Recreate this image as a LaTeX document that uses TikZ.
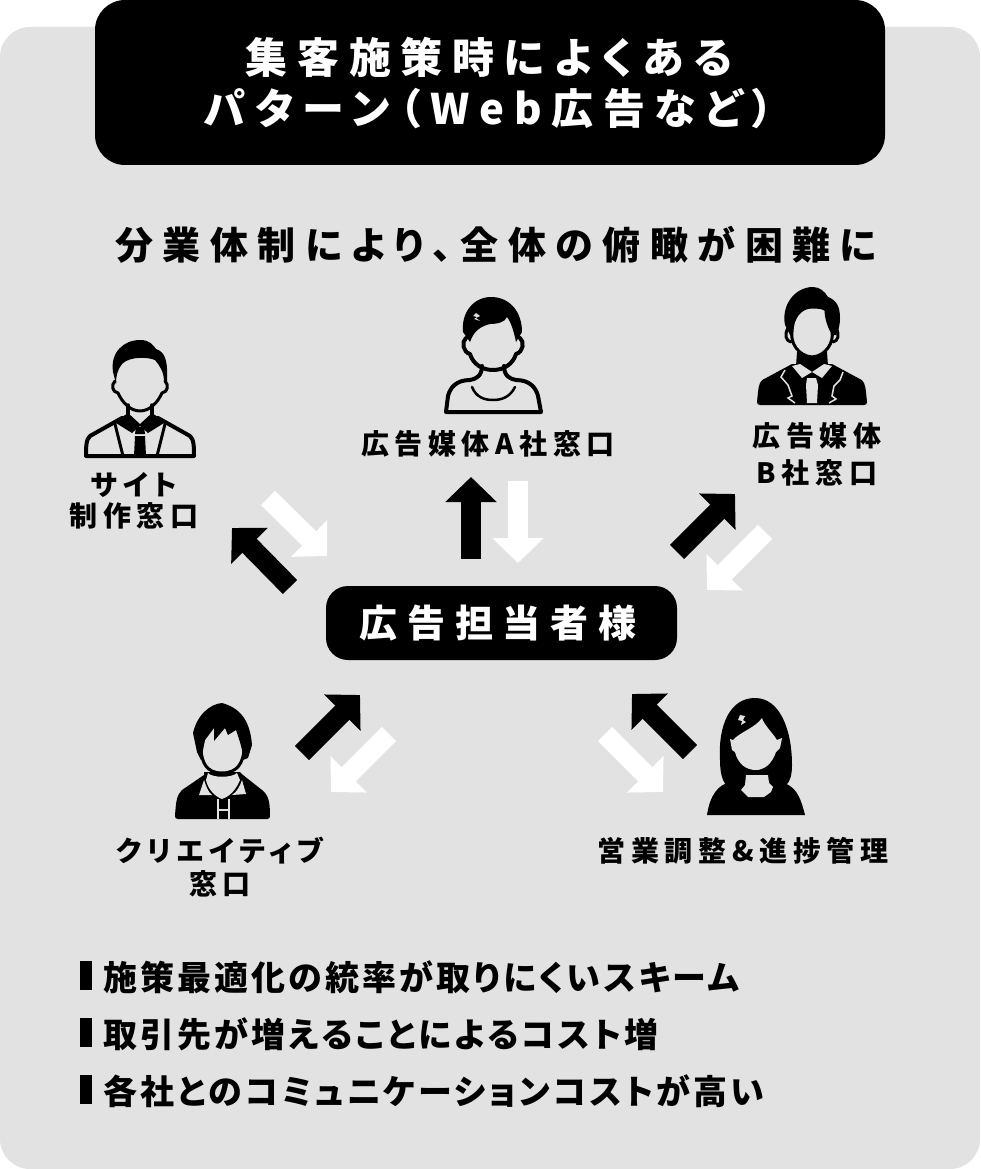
\documentclass[tikz,border=0pt]{standalone}
\usepackage{fontspec}
\usetikzlibrary{arrows.meta}
\newfontfamily\jpA[LetterSpace=23,RawFeature=+palt]{Noto Sans CJK JP}
\newfontfamily\jpB[LetterSpace=25,RawFeature=+palt]{Noto Sans CJK JP}
\newfontfamily\jpC[LetterSpace=20,RawFeature=+palt]{Noto Sans CJK JP}
\newfontfamily\jpD[LetterSpace=25.5,RawFeature=+palt]{Noto Sans CJK JP}
\newfontfamily\jpE[LetterSpace=9,RawFeature=+palt]{Noto Sans CJK JP}
\definecolor{panel}{HTML}{E2E2E2}
\tikzset{
  bluntbox/.style={fill=black,rounded corners=#1,draw=none},
  blockblack/.style={draw=black,line width=20pt,-{Triangle[length=25pt,width=50pt,sep=0pt]}},
  blockwhite/.style={draw=white,line width=20pt,-{Triangle[length=25pt,width=50pt,sep=0pt]}},
  titletext/.style={text=white,align=center,font=\jpA\bfseries\fontsize{42}{51}\selectfont},
  subtext/.style={text=black,font=\jpB\bfseries\fontsize{38}{44}\selectfont},
  labeltext/.style={text=black,align=center,font=\jpC\bfseries\fontsize{28}{33}\selectfont},
  hubtext/.style={text=white,font=\jpD\bfseries\fontsize{38}{44}\selectfont},
  listtext/.style={text=black,anchor=west,font=\jpE\bfseries\fontsize{34}{40}\selectfont},
  ink/.style={fill=black,draw=none},
  hole/.style={fill=panel,draw=none},
  outline/.style={draw=black,line width=4pt,line join=round,line cap=round,fill=none},
  bar/.style={fill=black,draw=none},
}
\begin{document}
\begin{tikzpicture}[x=1pt,y=-1pt]
\useasboundingbox (0,0) rectangle (980,1169);
\fill[white] (0,0) rectangle (980,1169);
\fill[panel,rounded corners=30pt] (0,27) rectangle (980,1169);
\fill[bluntbox=30pt] (95,0) rectangle (885,165);
\node[titletext] (title) at (489,83) {集客施策時によくある\\パターン（Web広告など）};
\node[subtext] (sub) at (496,245) {分業体制により、全体の俯瞰が困難に};
\node[bluntbox=22pt,minimum width=351pt,minimum height=74pt] (hub) at (501.5,623) {};
\node[hubtext] (hubt) at (498,623) {広告担当者様};
% labels
\node[labeltext] (lsite) at (134,500.5) {サイト\\[-2pt]制作窓口};
\node[labeltext] (la) at (488,444) {広告媒体A社窓口};
\node[labeltext] (lb) at (817,454) {広告媒体\\[4pt]B社窓口};
\node[labeltext] (lc) at (220,867) {クリエイティブ\\窓口};
\node[labeltext] (ls) at (743,851) {営業調整\&進捗管理};
% list
\node[listtext] (li1) at (100,977) {施策最適化の統率が取りにくいスキーム};
\node[listtext] (li2) at (100,1034) {取引先が増えることによるコスト増};
\node[listtext] (li3) at (100,1091) {各社とのコミュニケーションコストが高い};
\fill[bar] (80,961) rectangle (92,990);
\fill[bar] (80,1018) rectangle (92,1047);
\fill[bar] (80,1075) rectangle (92,1104);
% arrows
\coordinate (a1s) at (290,587); \coordinate (a1e) at (232,528);
\coordinate (a2s) at (268,498); \coordinate (a2e) at (327,556);
\coordinate (a3s) at (471,559); \coordinate (a3e) at (471,477);
\coordinate (a4s) at (518,481); \coordinate (a4e) at (518,563);
\coordinate (a5s) at (677,552); \coordinate (a5e) at (735,494);
\coordinate (a6s) at (765,532); \coordinate (a6e) at (707,590);
\coordinate (a7s) at (302,753); \coordinate (a7e) at (360,695);
\coordinate (a8s) at (389,734); \coordinate (a8e) at (331,792);
\coordinate (a9s) at (690,752); \coordinate (a9e) at (632,694);
\coordinate (a10s) at (605,734); \coordinate (a10e) at (663,792);
\draw[blockblack] (a1s) -- (a1e);
\draw[blockwhite] (a2s) -- (a2e);
\draw[blockblack] (a3s) -- (a3e);
\draw[blockwhite] (a4s) -- (a4e);
\draw[blockblack] (a5s) -- (a5e);
\draw[blockwhite] (a6s) -- (a6e);
\draw[blockblack] (a7s) -- (a7e);
\draw[blockwhite] (a8s) -- (a8e);
\draw[blockblack] (a9s) -- (a9e);
\draw[blockwhite] (a10s) -- (a10e);
% ---- icon: site (outlined suit)
\fill[ink] (113,372) .. controls (110,352) and (124,340) .. (140,340) .. controls (150,340) and (153,345) .. (156,349) .. controls (165,352) and (168,360) .. (167,382) -- (164,382) .. controls (164,372) and (160,366) .. (155,360) .. controls (148,357) and (130,356) .. (122,364) .. controls (118,369) and (116,375) .. (116,384) -- cycle;
\draw[outline,line width=3pt] (115,381) .. controls (111,385) and (112,392) .. (118,393) .. controls (122,402) and (130,411) .. (140,411) .. controls (150,411) and (158,402) .. (162,393) .. controls (168,392) and (169,385) .. (165,381);
\draw[outline,line width=3.5pt] (128,405) -- (128,417) (152,405) -- (152,417);
\draw[outline] (122,418) -- (90,436) .. controls (86,439) and (86,448) .. (86,456) -- (194,456) .. controls (194,448) and (194,439) .. (190,436) -- (158,418);
\draw[outline,line width=3pt] (115,424) -- (123,456) (165,424) -- (157,456);
\fill[ink] (122,417) -- (128,413) -- (140,424) -- (152,413) -- (158,417) -- (164,423) -- (148,433) -- (140,426) -- (132,433) -- (116,423) -- cycle;
\fill[ink] (136,427) -- (144,427) -- (145,434) -- (135,434) -- cycle;
\fill[ink] (135,436) -- (145,436) -- (146,456) -- (134,456) -- cycle;
% ---- icon: A (casual outline)
\fill[ink] (463,332) .. controls (461,312) and (474,297) .. (491,297) .. controls (510,297) and (522,312) .. (522,332) -- (516,342) .. controls (514,332) and (511,322) .. (507,317) .. controls (505,322) and (498,324) .. (490,324) .. controls (482,326) and (474,330) .. (470,342) -- cycle;
\fill[panel] (476,313) -- (480,316) -- (476,318) -- (480,321) -- (474,319) -- (477,317) -- (473,316) -- cycle;
\draw[outline] (466,338) .. controls (461,342) and (463,352) .. (470,354) .. controls (473,364) and (482,370) .. (493,370) .. controls (504,370) and (513,364) .. (516,354) .. controls (523,352) and (525,342) .. (520,338);
\draw[outline] (482,366) .. controls (482,376) and (476,379) .. (470,380) .. controls (456,380) and (450,388) .. (448,396) -- (446,412) -- (541,412) -- (538,396) .. controls (536,388) and (530,380) .. (516,380) .. controls (510,379) and (504,376) .. (504,366);
\draw[outline,line width=2.5pt] (472,387) .. controls (476,397) and (484,400) .. (493,400) .. controls (502,400) and (510,397) .. (515,387);
% ---- icon: B (solid suit)
\fill[ink] (785,325) .. controls (781,305) and (795,287) .. (813,287) .. controls (820,287) and (825,292) .. (828,297) .. controls (836,300) and (840,306) .. (840,318) .. controls (840,326) and (838,332) .. (836,335) -- (790,335) -- cycle;
\draw[outline,line width=3pt] (788,328) .. controls (784,335) and (786,341) .. (791,342) (836,328) .. controls (840,335) and (838,341) .. (833,342);
\fill[ink] (797,352) -- (827,352) -- (828,366) -- (796,366) -- cycle;
\filldraw[hole,draw=black,line width=3pt] (792,332) .. controls (792,318) and (800,307) .. (812,307) .. controls (820,307) and (824,308) .. (826,310) .. controls (826,318) and (829,326) .. (832,332) .. controls (834,342) and (826,356) .. (812,357) .. controls (798,356) and (790,342) .. (792,332) -- cycle;
\fill[ink] (792,364) -- (766,378) .. controls (760,380) and (759,384) .. (758,392) -- (757,402) .. controls (757,404) and (758,405) .. (760,405) -- (864,405) .. controls (866,405) and (867,404) .. (867,402) -- (866,392) .. controls (865,384) and (864,380) .. (858,378) -- (832,364) -- cycle;
\fill[hole] (792,366) -- (800,364) -- (812,372) -- (824,364) -- (832,366) -- (822,378) -- (812,372) -- (802,378) -- cycle;
\fill[hole] (807,378) -- (816,378) -- (818,385) -- (817,403) -- (807,403) -- (806,385) -- cycle;
\draw[panel,line width=1.5pt] (785,370) -- (781,377) -- (788,385) -- (792,396) -- (788,398) -- (795,403);
\draw[panel,line width=1.5pt] (843,372) -- (840,380) -- (834,386) -- (832,396) -- (836,399) -- (829,403);
% ---- icon: creative (solid casual)
\fill[ink] (193,733) .. controls (197,715) and (210,704) .. (222,703) .. controls (240,708) and (250,720) .. (252,745) -- (248,758) -- (243,760) .. controls (243,750) and (240,742) .. (236,730) -- (228,735) -- (225,728) -- (214,741) -- (214,728) -- (205,740) -- (201,760) -- (197,752) -- cycle;
\draw[outline,line width=3pt] (201,750) .. controls (202,762) and (206,773) .. (222,773) .. controls (238,773) and (243,762) .. (244,750);
\fill[ink] (204,772) -- (240,772) -- (243,775) -- (262,790) .. controls (268,795) and (270,800) .. (270,816) .. controls (270,818) and (269,819) .. (267,819) -- (178,819) .. controls (176,819) and (175,818) .. (175,816) .. controls (176,800) and (177,795) .. (182,790) -- (204,775) -- cycle;
\fill[hole] (208,773) .. controls (212,778) and (232,778) .. (237,773) -- (240,780) .. controls (235,792) and (228,797) .. (222,799) .. controls (216,797) and (208,790) .. (206,780) -- cycle;
\fill[hole] (204,780) -- (200,792) -- (199,795) -- (212,795) .. controls (208,792) and (206,786) .. (204,780) -- cycle;
\fill[hole] (242,780) -- (246,794) -- (232,795) .. controls (237,792) and (240,786) .. (242,780) -- cycle;
\draw[panel,line width=1.5pt] (218,799) -- (218,819) (229,799) -- (229,819) (218,810) -- (229,810);
% ---- icon: woman (solid)
\fill[ink] (720,760) .. controls (718,725) and (730,698) .. (755,698) .. controls (780,698) and (792,730) .. (792,765) .. controls (792,775) and (790,782) .. (786,785) -- (726,785) .. controls (722,780) and (720,772) .. (720,760) -- cycle;
\fill[ink] (745,775) -- (767,775) -- (780,782) .. controls (795,785) and (800,795) .. (805,815) -- (707,815) .. controls (710,795) and (718,785) .. (730,782) -- cycle;
\fill[hole] (730,739) -- (733,740) .. controls (740,732) and (755,728) .. (762,718) .. controls (764,725) and (772,732) .. (777,740) -- (782,738) -- (780,748) -- (776,752) .. controls (772,764) and (764,770) .. (756,770) .. controls (746,770) and (738,764) .. (735,752) -- (732,750) -- cycle;
\fill[hole] (746,775) -- (768,775) -- (769,783) -- (773,787) -- (771,792) -- (764,797) -- (748,797) -- (741,790) -- (745,785) -- cycle;
\fill[hole] (740,715) -- (745,716) -- (743,720) -- (746,722) -- (741,725) -- (742,721) -- (738,720) -- cycle;
\end{tikzpicture}
\end{document}
